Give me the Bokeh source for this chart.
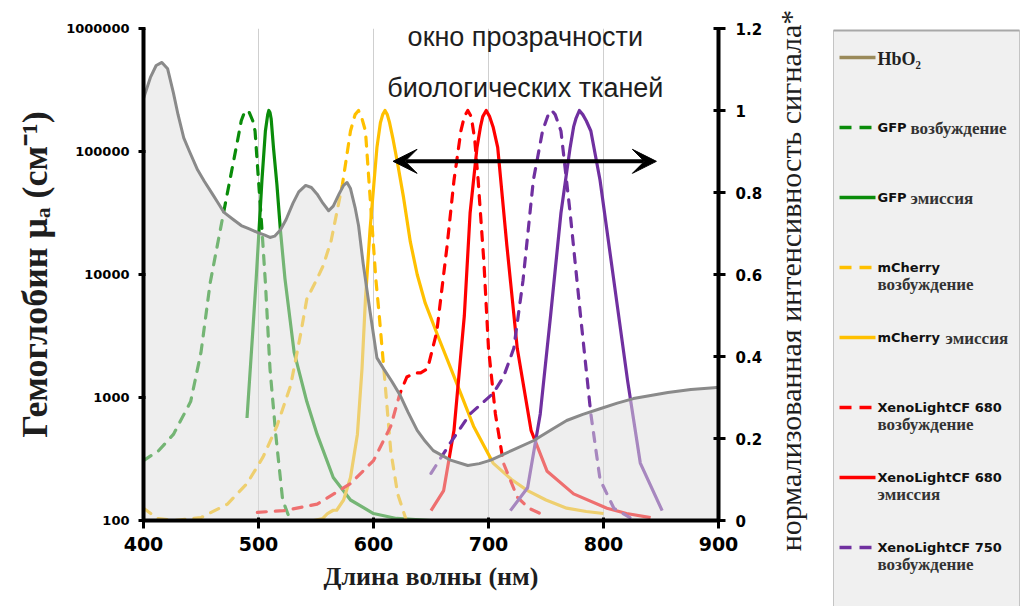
import math
from bokeh.plotting import figure
from bokeh.models import (Range1d, LinearAxis, LinearScale, FixedTicker, CustomJSTickFormatter,
                          Label, Arrow, VeeHead)
from bokeh.layouts import row
from bokeh.core.properties import value
from bokeh.embed import file_html
from bokeh.resources import INLINE

# ---------------- data ----------------
hb_lam = [400, 406, 411, 416, 421, 426, 430, 435, 440, 447, 453, 460, 465, 470, 478, 485, 492,
          499, 505, 510, 514, 519, 524, 530, 535, 541, 546, 551, 556, 561, 565, 570, 574, 577,
          580, 584, 587, 591, 597, 603, 609, 616, 623, 630, 638, 645, 652, 667, 682, 692, 702,
          720, 739, 755, 768, 782, 797, 812, 826, 841, 856, 876, 896, 900]
hb_val = [270000, 400000, 500000, 530000, 470000, 300000, 200000, 129000, 100000, 71000, 57000,
          45000, 38000, 32000, 28000, 25000, 23500, 22000, 21000, 20000, 20500, 23000, 28000,
          38000, 47000, 53000, 51000, 45000, 38000, 33000, 36000, 45000, 53000, 56000, 50000,
          35000, 25000, 12300, 5000, 2100, 1700, 1350, 1050, 760, 540, 440, 370, 310, 280, 290,
          310, 370, 445, 550, 650, 730, 810, 900, 980, 1040, 1100, 1160, 1200, 1210]

gfp_ex_lam = [400, 413, 426, 441, 450, 458, 470, 482, 485, 488, 490, 492, 495, 497, 500, 503,
              506, 510, 515, 521, 527]
gfp_ex_val = [0.146, 0.17, 0.21, 0.29, 0.41, 0.58, 0.756, 0.93, 0.975, 0.997, 1.0, 0.995,
              0.975, 0.95, 0.83, 0.71, 0.58, 0.37, 0.21, 0.05, 0.005]

gfp_em_lam = [490, 495, 498, 503, 506, 508, 509, 510, 511, 513, 516, 519, 523, 531, 542, 551,
              565, 580, 600, 620, 650]
gfp_em_val = [0.25, 0.46, 0.59, 0.83, 0.95, 0.99, 1.0, 0.995, 0.98, 0.91, 0.82, 0.71, 0.59,
              0.41, 0.29, 0.21, 0.105, 0.05, 0.017, 0.005, 0.0]

mch_ex_lam = [400, 412, 426, 450, 473, 490, 504, 516, 528, 537, 542, 551, 556, 563, 573, 580,
              584, 587, 590, 593, 596, 599, 602, 605, 609, 615, 621, 628]
mch_ex_val = [0.03, 0.005, 0.0, 0.007, 0.04, 0.09, 0.155, 0.23, 0.33, 0.46, 0.54, 0.59, 0.62,
              0.68, 0.82, 0.95, 0.99, 1.0, 0.98, 0.95, 0.83, 0.71, 0.59, 0.5, 0.37, 0.17,
              0.065, 0.005]

mch_em_lam = [548, 556, 560, 565, 568, 574, 580, 586, 590, 593, 597, 603, 606, 608, 610, 612,
              614, 617, 621, 626, 632, 638, 645, 656, 673, 687, 704, 720, 734, 750, 768, 785,
              800]
mch_em_val = [0.0, 0.005, 0.017, 0.025, 0.025, 0.05, 0.105, 0.21, 0.37, 0.54, 0.71, 0.91,
              0.97, 0.99, 1.0, 0.99, 0.97, 0.93, 0.87, 0.79, 0.68, 0.6, 0.53, 0.45, 0.33, 0.23,
              0.14, 0.1, 0.073, 0.05, 0.03, 0.022, 0.017]

x680_ex_lam = [499, 522, 551, 580, 600, 615, 623, 629, 636, 641, 647, 655, 664, 670, 676, 679,
               682, 685, 688, 691, 696, 700, 706, 713, 725, 735, 745]
x680_ex_val = [0.02, 0.024, 0.04, 0.09, 0.146, 0.23, 0.31, 0.35, 0.36, 0.36, 0.37, 0.46, 0.67,
               0.83, 0.95, 0.985, 1.0, 0.985, 0.93, 0.83, 0.63, 0.42, 0.26, 0.14, 0.057, 0.03,
               0.017]

x680_em_lam = [650, 661, 670, 679, 684, 690, 693, 695, 698, 701, 704, 708, 716, 725, 737, 751,
               774, 803, 820, 841]
x680_em_val = [0.024, 0.073, 0.22, 0.5, 0.75, 0.91, 0.96, 0.985, 1.0, 0.985, 0.96, 0.91, 0.67,
               0.42, 0.22, 0.12, 0.065, 0.03, 0.017, 0.007]

x750_ex_lam = [650, 667, 684, 704, 713, 722, 730, 739, 747, 752, 755, 758, 763, 771, 780, 789,
               797, 809, 823]
x750_ex_val = [0.115, 0.19, 0.26, 0.31, 0.35, 0.42, 0.585, 0.83, 0.95, 0.99, 1.0, 0.99, 0.95,
               0.75, 0.5, 0.26, 0.1, 0.03, 0.007]

x750_em_lam = [719, 734, 745, 754, 763, 771, 774, 776, 779, 782, 785, 789, 797, 809, 821, 832,
               851]
x750_em_val = [0.024, 0.08, 0.26, 0.5, 0.75, 0.91, 0.96, 0.98, 1.0, 0.99, 0.975, 0.95, 0.83,
               0.585, 0.34, 0.14, 0.024]

x_ticks = [400, 500, 600, 700, 800, 900]
left_ticks = [100, 1000, 10000, 100000, 1000000]
right_ticks = [0, 0.2, 0.4, 0.6, 0.8, 1.0, 1.2]

window_start, window_end, window_level = 617, 846, 0.876

legend_names = ["HbO₂", "GFP", "GFP", "mCherry", "mCherry",
                "XenoLightCF 680", "XenoLightCF 680", "XenoLightCF 750"]
legend_desc = ["", "возбуждение", "эмиссия", "возбуждение", "эмиссия",
               "возбуждение", "эмиссия", "возбуждение"]

# ---------------- styles ----------------
GREEN = "#0a8c0a"
AMBER = "#ffc000"
RED = "#ff0000"
PURPLE = "#7030a0"
HB = "#8a8a8a"
HB_LEG = "#9a8a5a"
DASH = "9 9"
TXT = "#1e1e1e"

series = [
    (gfp_ex_lam, gfp_ex_val, GREEN, DASH),
    (gfp_em_lam, gfp_em_val, GREEN, "solid"),
    (mch_ex_lam, mch_ex_val, AMBER, DASH),
    (mch_em_lam, mch_em_val, AMBER, "solid"),
    (x680_ex_lam, x680_ex_val, RED, DASH),
    (x680_em_lam, x680_em_val, RED, "solid"),
    (x750_ex_lam, x750_ex_val, PURPLE, DASH),
    (x750_em_lam, x750_em_val, PURPLE, "solid"),
]

# geometry (pixels)
W, H = 1026, 606
MAIN_W = 770
FL, FT, FW, FH = 143, 28, 575, 492

# ---------------- main figure ----------------
p = figure(width=MAIN_W, height=H, x_range=Range1d(400, 900), y_range=Range1d(100, 1e6),
           y_axis_type="log", output_backend="svg", toolbar_location=None,
           min_border_left=FL, min_border_right=MAIN_W - FL - FW, min_border_top=FT,
           min_border_bottom=H - FT - FH)
p.frame_align = False
p.outline_line_color = None
p.background_fill_color = "white"
p.border_fill_color = "white"
p.extra_y_ranges = {"right": Range1d(0, 1.2)}
p.extra_y_scales = {"right": LinearScale()}

p.ygrid.visible = False
p.xgrid.ticker = FixedTicker(ticks=x_ticks)
p.xgrid.grid_line_color = "#cfcfcf"
p.xgrid.grid_line_width = 1

for lam, val, col, dash in series:
    p.line(lam, val, y_range_name="right", line_color=col, line_width=3.2,
           line_dash=dash, line_cap="round" if dash != "solid" else "butt",
           line_join="round")

# hemoglobin shaded area (semi-transparent so lines beneath look lighter)
p.varea(x=hb_lam, y1=[left_ticks[0]] * len(hb_lam), y2=hb_val,
        fill_color="#dedede", fill_alpha=0.5)
p.line(hb_lam, hb_val, line_color=HB, line_width=3, line_join="round")

# axes
xa = p.xaxis[0]
xa.ticker = FixedTicker(ticks=x_ticks)
xa.minor_tick_line_color = None
xa.axis_line_width = 4
xa.major_tick_line_width = 3
xa.major_tick_out = 8
xa.major_tick_in = 3
xa.major_label_standoff = 8
xa.major_label_text_font = "DejaVu Sans"
xa.major_label_text_font_style = "bold"
xa.major_label_text_font_size = "19px"
xa.major_label_text_color = "black"
xa.axis_label = "Длина волны (нм)"
xa.axis_label_text_font = "Liberation Serif"
xa.axis_label_text_font_style = "bold"
xa.axis_label_text_font_size = "26px"
xa.axis_label_text_color = TXT
xa.axis_label_standoff = 8

ya = p.yaxis[0]
ya.ticker = FixedTicker(ticks=left_ticks)
ya.formatter = CustomJSTickFormatter(code="return tick.toFixed(0);")
ya.minor_tick_line_color = None
ya.axis_line_width = 4
ya.major_tick_line_width = 3
ya.major_tick_out = 5
ya.major_tick_in = 2
ya.major_label_standoff = 9
ya.major_label_text_font = "DejaVu Sans"
ya.major_label_text_font_style = "bold"
ya.major_label_text_font_size = "13px"
ya.major_label_text_color = "black"
ya.axis_label = "Гемоглобин μₐ (см⁻¹)"
ya.axis_label_text_font = "Liberation Serif"
ya.axis_label_text_font_style = "bold"
ya.axis_label_text_font_size = "36px"
ya.axis_label_text_color = TXT
ya.axis_label_standoff = 8

ra = LinearAxis(y_range_name="right", ticker=FixedTicker(ticks=right_ticks),
                formatter=CustomJSTickFormatter(code="return String(Number(tick.toFixed(1)));"))
ra.minor_tick_line_color = None
ra.axis_line_width = 4
ra.major_tick_line_width = 3
ra.major_tick_out = 7
ra.major_tick_in = 5
ra.major_label_standoff = 10
ra.major_label_text_font = "DejaVu Sans"
ra.major_label_text_font_style = "bold"
ra.major_label_text_font_size = "15px"
ra.major_label_text_color = "black"
p.add_layout(ra, "right")

p.add_layout(Label(x=732, y=1.18, y_range_name="right", text="окно прозрачности",
                   text_font="Liberation Sans", text_font_size="27px", text_color=TXT,
                   text_align="center", text_baseline="middle"))
p.add_layout(Label(x=732, y=1.054, y_range_name="right", text="биологических тканей",
                   text_font="Liberation Sans", text_font_size="27px", text_color=TXT,
                   text_align="center", text_baseline="middle"))

p.add_layout(Arrow(x_start=window_start, x_end=window_end, y_start=window_level,
                   y_end=window_level, y_range_name="right", line_width=4,
                   line_color="black",
                   start=VeeHead(size=24, fill_color="black", line_color="black"),
                   end=VeeHead(size=24, fill_color="black", line_color="black")))

# ---------------- side panel: right-axis title + legend ----------------
LW = W - MAIN_W
leg = figure(width=LW, height=H, x_range=Range1d(MAIN_W, W), y_range=Range1d(0, H),
             output_backend="svg", toolbar_location=None, min_border=0,
             min_border_left=0, min_border_right=0, min_border_top=0, min_border_bottom=0,
             x_axis_location=None, y_axis_location=None)
leg.frame_align = False
leg.outline_line_color = None
leg.background_fill_color = "white"
leg.border_fill_color = "white"
leg.xgrid.visible = False
leg.ygrid.visible = False


def fy(py):
    """page pixel row -> panel y (panel y axis points up)"""
    return H - py


leg.text(x=[790], y=[fy(280)], text=["нормализованная интенсивность сигнала*"],
         angle=math.pi / 2, text_font=value("Liberation Serif"), text_font_size="30px",
         text_align="center", text_baseline="middle", text_color=TXT)

leg.quad(left=833, right=1019, top=fy(30), bottom=fy(H + 20), fill_color="#f0f0f0",
         line_color="#c4c4c4", line_width=1)
leg.segment(x0=833, y0=fy(30), x1=1019, y1=fy(30), line_color="#a8a8a8", line_width=2)

leg_colors = [HB_LEG, GREEN, GREEN, AMBER, AMBER, RED, RED, PURPLE]
leg_dashed = [False, True, False, True, False, True, False, True]
same_line_off = [0, 33, 33, 0, 68, 0, 0, 0]
ROW0, STEP = 57, 70
TX = 877
for i, name in enumerate(legend_names):
    yy = ROW0 + STEP * i
    leg.line([839, 875], [fy(yy), fy(yy)], line_color=leg_colors[i], line_width=3.5,
             line_dash="12 8" if leg_dashed[i] else "solid")
    if i == 0:
        leg.text(x=[TX], y=[fy(yy + 1)], text=[name], text_font=value("Liberation Serif"),
                 text_font_style="bold", text_font_size="18px", text_baseline="middle",
                 text_color="#222222")
        continue
    leg.text(x=[TX], y=[fy(yy)], text=[name], text_font=value("DejaVu Sans"),
             text_font_style="bold", text_font_size="13px", text_baseline="middle",
             text_color="#111111")
    if same_line_off[i]:
        dx, dy = TX + same_line_off[i], yy + 1
    else:
        dx, dy = TX, yy + 17
    leg.text(x=[dx], y=[fy(dy)], text=[legend_desc[i]], text_font=value("Liberation Serif"),
             text_font_style="bold", text_font_size="17px", text_baseline="middle",
             text_color="#333333")

layout = row(p, leg)
open("out.html", "w").write(file_html(layout, INLINE))
